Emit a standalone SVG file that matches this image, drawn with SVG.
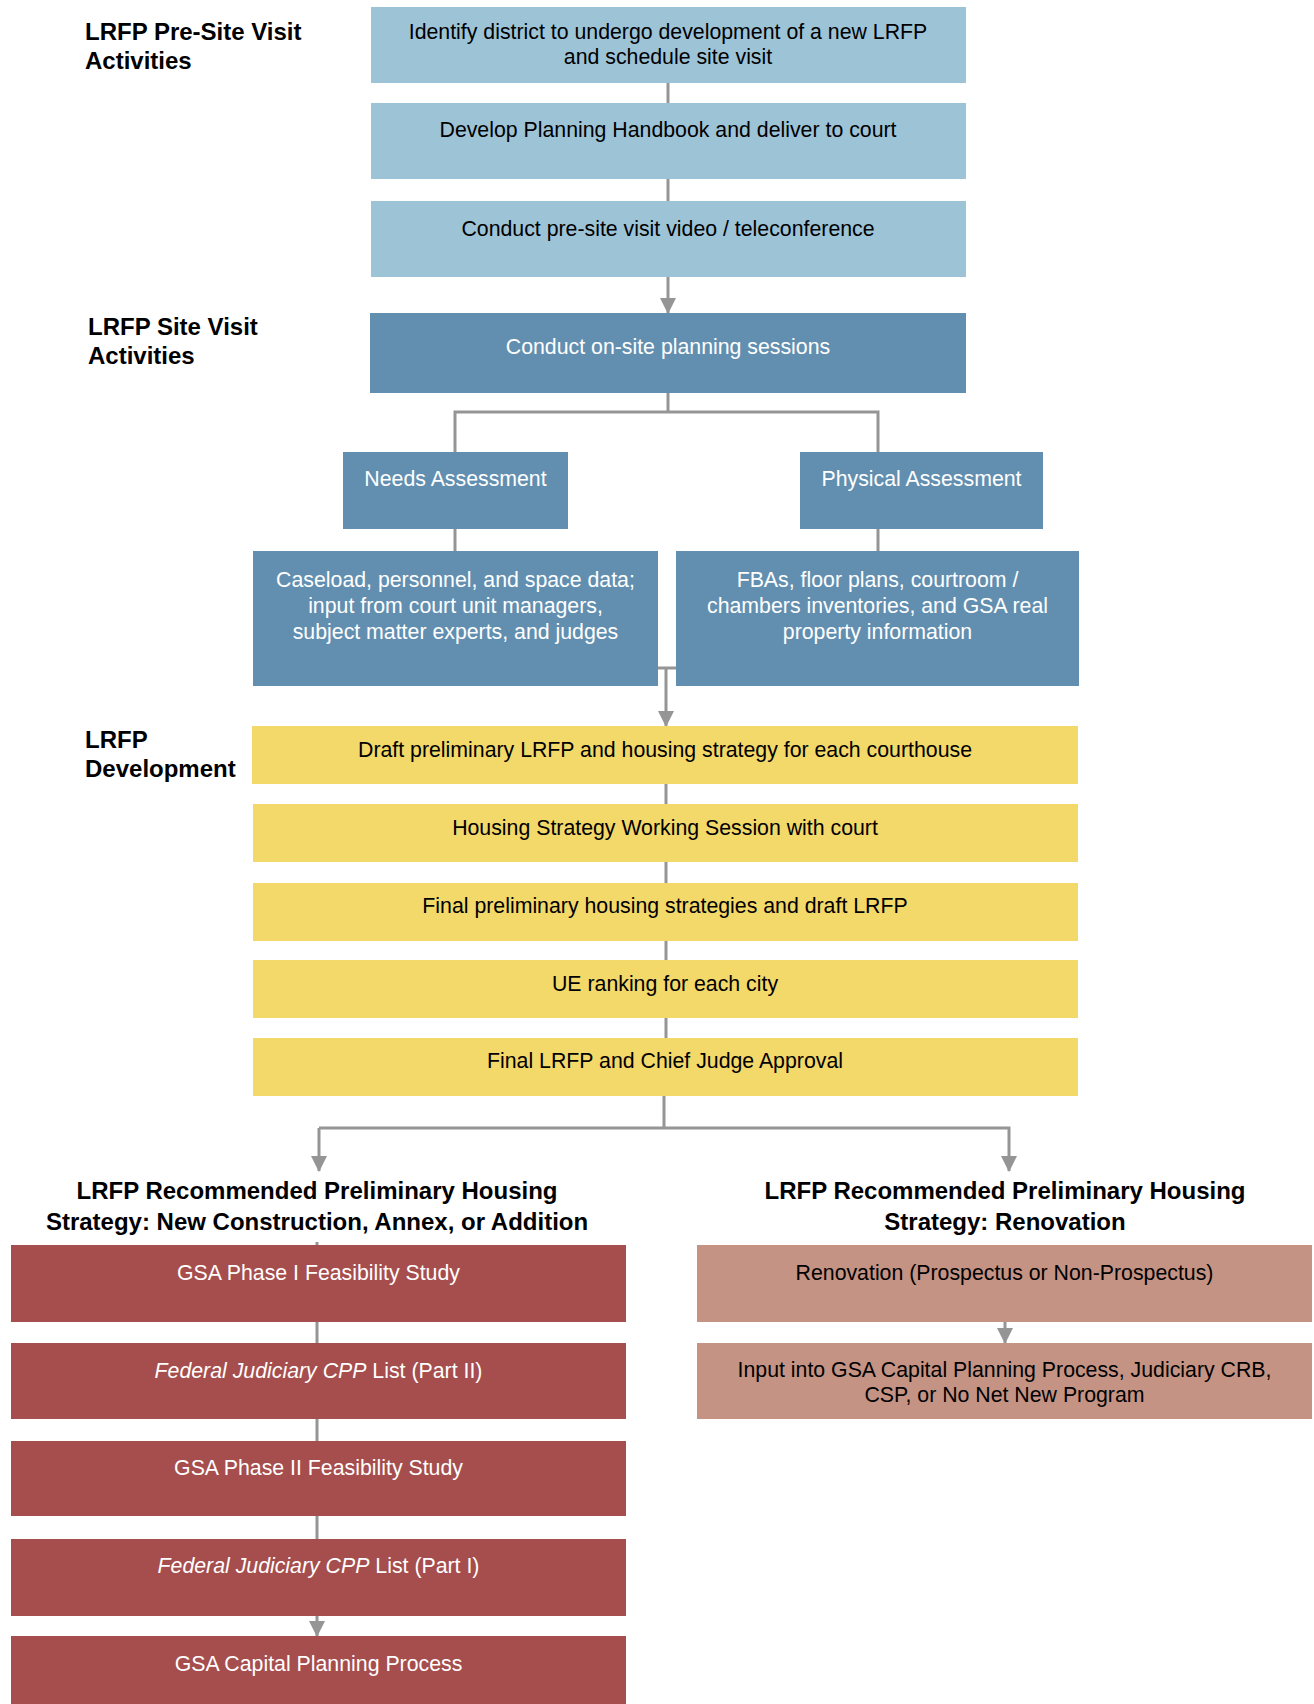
<svg xmlns="http://www.w3.org/2000/svg" width="1314" height="1704" viewBox="0 0 1314 1704">
<style>
text{font-family:"Liberation Sans",Arial,sans-serif;font-size:21.3px;text-anchor:middle;fill:#000}
.lbl{font-size:24px;font-weight:bold;text-anchor:start}
.hd{font-size:24px;font-weight:bold}
.w{fill:#fff}
.lb{fill:#9DC3D7}
.db{fill:#628FB0}
.ye{fill:#F3D86A}
.rd{fill:#A54E4D}
.sa{fill:#C59383}
.c{stroke:#959595;stroke-width:3;fill:none}
</style>
<defs>
<marker id="ah" markerUnits="userSpaceOnUse" markerWidth="16" markerHeight="16" viewBox="0 0 16 16" refX="15" refY="8" orient="auto">
<path d="M0,0 L16,8 L0,16 Z" fill="#959595"/>
</marker>
</defs>
<rect width="1314" height="1704" fill="#fff"/>

<g id="connectors">
<line class="c" x1="668" y1="83" x2="668" y2="103"/>
<line class="c" x1="668" y1="179" x2="668" y2="201"/>
<line class="c" x1="668" y1="277" x2="668" y2="313" marker-end="url(#ah)"/>
<polyline class="c" points="668,393 668,412"/>
<polyline class="c" points="455,452 455,412 878,412 878,452"/>
<line class="c" x1="455" y1="529" x2="455" y2="551"/>
<line class="c" x1="878" y1="529" x2="878" y2="551"/>
<polyline class="c" points="658,668 676,668"/>
<line class="c" x1="666" y1="668" x2="666" y2="726" marker-end="url(#ah)"/>
<line class="c" x1="666" y1="784" x2="666" y2="804"/>
<line class="c" x1="666" y1="862" x2="666" y2="883"/>
<line class="c" x1="666" y1="941" x2="666" y2="960"/>
<line class="c" x1="666" y1="1018" x2="666" y2="1038"/>
<line class="c" x1="664" y1="1096" x2="664" y2="1128"/>
<polyline class="c" points="319,1128 1009,1128 1009,1171" marker-end="url(#ah)"/>
<line class="c" x1="319" y1="1128" x2="319" y2="1171" marker-end="url(#ah)"/>
<line class="c" x1="317" y1="1242" x2="317" y2="1245"/>
<line class="c" x1="317" y1="1322" x2="317" y2="1343"/>
<line class="c" x1="317" y1="1419" x2="317" y2="1441"/>
<line class="c" x1="317" y1="1516" x2="317" y2="1539"/>
<line class="c" x1="317" y1="1616" x2="317" y2="1636" marker-end="url(#ah)"/>
<line class="c" x1="1005" y1="1322" x2="1005" y2="1343" marker-end="url(#ah)"/>
</g>

<g id="label-presite">
<text class="lbl" x="85" y="40">LRFP Pre-Site Visit</text>
<text class="lbl" x="85" y="69">Activities</text>
</g>
<g id="label-site">
<text class="lbl" x="88" y="335">LRFP Site Visit</text>
<text class="lbl" x="88" y="364">Activities</text>
</g>
<g id="label-dev">
<text class="lbl" x="85" y="748">LRFP</text>
<text class="lbl" x="85" y="777">Development</text>
</g>

<g id="n1"><rect class="lb" x="371" y="7" width="595" height="76"/>
<text x="668" y="39">Identify district to undergo development of a new LRFP</text>
<text x="668" y="64">and schedule site visit</text></g>
<g id="n2"><rect class="lb" x="371" y="103" width="595" height="76"/>
<text x="668" y="137">Develop Planning Handbook and deliver to court</text></g>
<g id="n3"><rect class="lb" x="371" y="201" width="595" height="76"/>
<text x="668" y="236">Conduct pre-site visit video / teleconference</text></g>
<g id="n4"><rect class="db" x="370" y="313" width="596" height="80"/>
<text class="w" x="668" y="354">Conduct on-site planning sessions</text></g>

<g id="n5"><rect class="db" x="343" y="452" width="225" height="77"/>
<text class="w" x="455.5" y="486">Needs Assessment</text></g>
<g id="n6"><rect class="db" x="800" y="452" width="243" height="77"/>
<text class="w" x="921.5" y="486">Physical Assessment</text></g>

<g id="n7"><rect class="db" x="253" y="551" width="405" height="135"/>
<text class="w" x="455.5" y="587">Caseload, personnel, and space data;</text>
<text class="w" x="455.5" y="613">input from court unit managers,</text>
<text class="w" x="455.5" y="639">subject matter experts, and judges</text></g>
<g id="n8"><rect class="db" x="676" y="551" width="403" height="135"/>
<text class="w" x="877.5" y="587">FBAs, floor plans, courtroom /</text>
<text class="w" x="877.5" y="613">chambers inventories, and GSA real</text>
<text class="w" x="877.5" y="639">property information</text></g>

<g id="n9"><rect class="ye" x="252" y="726" width="826" height="58"/>
<text x="665" y="757">Draft preliminary LRFP and housing strategy for each courthouse</text></g>
<g id="n10"><rect class="ye" x="253" y="804" width="825" height="58"/>
<text x="665" y="835">Housing Strategy Working Session with court</text></g>
<g id="n11"><rect class="ye" x="253" y="883" width="825" height="58"/>
<text x="665" y="913">Final preliminary housing strategies and draft LRFP</text></g>
<g id="n12"><rect class="ye" x="253" y="960" width="825" height="58"/>
<text x="665" y="991">UE ranking for each city</text></g>
<g id="n13"><rect class="ye" x="253" y="1038" width="825" height="58"/>
<text x="665" y="1068">Final LRFP and Chief Judge Approval</text></g>

<g id="head-left">
<text class="hd" x="317" y="1199">LRFP Recommended Preliminary Housing</text>
<text class="hd" x="317" y="1230">Strategy: New Construction, Annex, or Addition</text>
</g>
<g id="head-right">
<text class="hd" x="1005" y="1199">LRFP Recommended Preliminary Housing</text>
<text class="hd" x="1005" y="1230">Strategy: Renovation</text>
</g>

<g id="n14"><rect class="rd" x="11" y="1245" width="615" height="77"/>
<text class="w" x="318.5" y="1280">GSA Phase I Feasibility Study</text></g>
<g id="n15"><rect class="rd" x="11" y="1343" width="615" height="76"/>
<text class="w" x="318.5" y="1378"><tspan font-style="italic">Federal Judiciary CPP</tspan> List (Part II)</text></g>
<g id="n16"><rect class="rd" x="11" y="1441" width="615" height="75"/>
<text class="w" x="318.5" y="1475">GSA Phase II Feasibility Study</text></g>
<g id="n17"><rect class="rd" x="11" y="1539" width="615" height="77"/>
<text class="w" x="318.5" y="1573"><tspan font-style="italic">Federal Judiciary CPP</tspan> List (Part I)</text></g>
<g id="n18"><rect class="rd" x="11" y="1636" width="615" height="68"/>
<text class="w" x="318.5" y="1671">GSA Capital Planning Process</text></g>

<g id="n19"><rect class="sa" x="697" y="1245" width="615" height="77"/>
<text x="1004.5" y="1280">Renovation (Prospectus or Non-Prospectus)</text></g>
<g id="n20"><rect class="sa" x="697" y="1343" width="615" height="76"/>
<text x="1004.5" y="1377">Input into GSA Capital Planning Process, Judiciary CRB,</text>
<text x="1004.5" y="1402">CSP, or No Net New Program</text></g>
</svg>
